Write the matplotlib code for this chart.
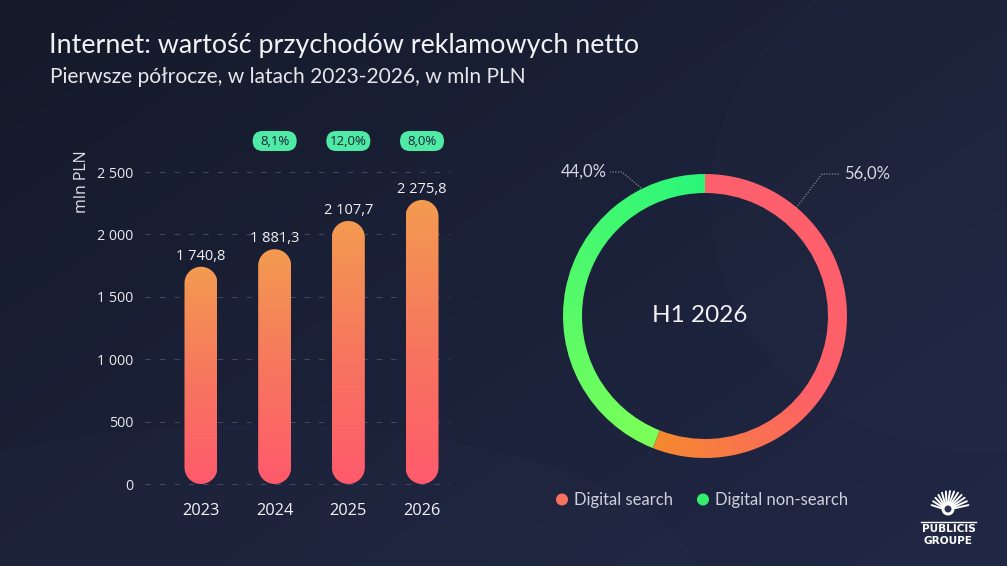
import numpy as np
import matplotlib
matplotlib.use("Agg")
import matplotlib.pyplot as plt
from matplotlib.colors import LinearSegmentedColormap, to_rgb
from matplotlib.patches import PathPatch, Circle, Ellipse, FancyBboxPatch
from matplotlib.path import Path

# ---------------- data ----------------
years = ["2023", "2024", "2025", "2026"]
values = [1740.8, 1881.3, 2107.7, 2275.8]
growth = [None, 8.1, 12.0, 8.0]
yticks = [0, 500, 1000, 1500, 2000, 2500]
share_labels = ["Digital search", "Digital non-search"]
shares = [56.0, 44.0]
center_label = "H1 2026"
title = "Internet: wartość przychodów reklamowych netto"
subtitle = "Pierwsze półrocze, w latach 2023-2026, w mln PLN"
ylabel = "mln PLN"

W, H = 1007, 566
DPI = 100
fig = plt.figure(figsize=(W / DPI, H / DPI), dpi=DPI)

def fx(px):
    return px / W

def fy(py):
    return 1 - py / H

# ---------------- background ----------------
bg = fig.add_axes([0, 0, 1, 1], zorder=-10)
bg.set_axis_off()
xx, yy = np.meshgrid(np.linspace(0, 1, 400), np.linspace(0, 1, 240))
c_tl = np.array(to_rgb("#151a2a"))
c_br = np.array(to_rgb("#212846"))
t = np.clip(0.55 * xx + 0.45 * yy, 0, 1)[..., None]
img = c_tl * (1 - t) + c_br * t
bg.imshow(img, extent=[0, 1, 1, 0], aspect="auto", interpolation="bicubic")
bg.set_xlim(0, 1)
bg.set_ylim(1, 0)
bg.add_patch(Ellipse((0.98, 0.35), 0.55, 0.9, color="white", alpha=0.012, lw=0))
bg.add_patch(Ellipse((0.25, 1.05), 0.9, 0.6, color="white", alpha=0.012, lw=0))

sans = ["Lato", "DejaVu Sans"]
tick_font = ["Open Sans", "DejaVu Sans"]

fig.text(fx(49), fy(46), title, fontsize=19.4, color="#f2f2f5", family=sans,
         va="center", ha="left")
fig.text(fx(50), fy(77), subtitle, fontsize=15.1, color="#e6e6ec", family=sans,
         va="center", ha="left")

# ---------------- bar chart ----------------
ax_l, ax_r = 145, 450
ymin, ymax = -100, 2700
y0px, y2500px = 484, 172
ppu = (y0px - y2500px) / 2500.0
top_px = y2500px - (ymax - 2500) * ppu
bot_px = y0px + (0 - ymin) * ppu
ax = fig.add_axes([fx(ax_l), fy(bot_px), (ax_r - ax_l) / W, (bot_px - top_px) / H])
ax.patch.set_alpha(0)
xmin, xmax = -0.76, 3.38
ax.set_xlim(xmin, xmax)
ax.set_ylim(ymin, ymax)
for s in ax.spines.values():
    s.set_visible(False)
ax.set_yticks(yticks)
ax.set_yticklabels([f"{v:,}".replace(",", " ") for v in yticks])
ax.set_xticks(range(len(years)))
ax.set_xticklabels(years)
ax.tick_params(axis="y", length=0, pad=8.6, colors="#e8e8ee", labelsize=10.3)
ax.tick_params(axis="x", length=0, pad=4.5, colors="#f4f4f8", labelsize=11.8)
for lab in ax.get_yticklabels() + ax.get_xticklabels():
    lab.set_family(tick_font)
ax.grid(axis="y", color="#5a6078", alpha=0.6, lw=0.8, linestyle=(0, (5, 8)))
ax.grid(axis="x", visible=False)
ax.set_axisbelow(True)
ax.set_ylabel(ylabel, color="#e0e0e8", fontsize=11.5, family=tick_font)
ax.yaxis.set_label_coords((90 - ax_l) / (ax_r - ax_l), (bot_px - 182) / (bot_px - top_px))

px_per_x = (ax_r - ax_l) / (xmax - xmin)
bar_w = 33 / px_per_x
rx = bar_w / 2
ry = (33 / 2) / ppu
cmap_bar = LinearSegmentedColormap.from_list("bar", ["#ff5a6c", "#f7775e", "#f39b50"])
grad = np.linspace(0, 1, 256)[:, None]

def fmt(v):
    s = f"{v:,.1f}"
    return s.replace(",", " ").replace(".", ",")

lax = fig.add_axes([0, 0, 1, 1], zorder=5)
lax.set_axis_off()
lax.set_xlim(0, W)
lax.set_ylim(H, 0)
lax.patch.set_alpha(0)

for i, v in enumerate(values):
    th_top = np.linspace(np.pi, 0, 40)
    th_bot = np.linspace(0, -np.pi, 40)
    top = np.column_stack([i + rx * np.cos(th_top), v - ry + ry * np.sin(th_top)])
    bot = np.column_stack([i + rx * np.cos(th_bot), ry + ry * np.sin(th_bot)])
    verts = np.vstack([top, bot, top[:1]])
    path = Path(verts, closed=True)
    patch = PathPatch(path, fc="none", ec="none")
    ax.add_patch(patch)
    im = ax.imshow(grad, extent=[i - rx, i + rx, 0, v], origin="lower", cmap=cmap_bar,
                   aspect="auto", zorder=2, interpolation="bicubic")
    im.set_clip_path(patch)
    ax.text(i, v + 3 / ppu, fmt(v), ha="center", va="bottom", color="#f2f2f5",
            fontsize=10.5, family=tick_font)
    if growth[i] is not None:
        bx = ax_l + (i - xmin) * px_per_x
        lax.add_patch(FancyBboxPatch((bx - 22 + 10, 131 + 10), 44 - 20, 20 - 20,
                                     boxstyle="round,pad=10", fc="#4feaa5", ec="none"))
        lax.text(bx, 141.5, f"{growth[i]:.1f}%".replace(".", ","),
                 ha="center", va="center", fontsize=9.5, color="#1b2236", family=tick_font)
ax.set_xlim(xmin, xmax)
ax.set_ylim(ymin, ymax)

# ---------------- donut ----------------
cx, cy, R = 705, 316, 142
box = 150
dax = fig.add_axes([fx(cx - box), fy(cy + box), 2 * box / W, 2 * box / H])
dax.set_axis_off()
lim = box / R
wedges, _ = dax.pie(shares, startangle=90, counterclock=False, radius=1,
                    wedgeprops=dict(width=19 / R, fc="none", ec="none"))
dax.set_xlim(-lim, lim)
dax.set_ylim(-lim, lim)
dax.set_aspect("equal")
n = 500
gx, gy = np.meshgrid(np.linspace(-lim, lim, n), np.linspace(-lim, lim, n))
frac = (np.degrees(np.arctan2(gx, gy)) % 360) / 360.0
cm_red = LinearSegmentedColormap.from_list(
    "r", [(0, "#ff5f6e"), (0.35, "#fd6168"), (0.56, "#f58a2e"), (1, "#f58a2e")])
cm_green = LinearSegmentedColormap.from_list("g2", ["#7dff59", "#2af67a"])
rgb_red = cm_red(frac)
rgb_green = cm_green(np.where(frac >= 0.56, (frac - 0.56) / 0.44, 0))
for wdg, rgb in [(wedges[0], rgb_red), (wedges[1], rgb_green)]:
    im = dax.imshow(rgb, extent=[-lim, lim, -lim, lim], origin="lower", zorder=2,
                    interpolation="bilinear")
    im.set_clip_path(wdg)

def to_d(px, py):
    return ((px - cx) / R, (cy - py) / R)

tx, ty = to_d(700, 316)
dax.text(tx, ty, center_label, ha="center", va="center", fontsize=17.5,
         color="#f2f2f5", family=sans)

lc = "#9aa0b4"
x1, y1 = to_d(641, 188); x2, y2 = to_d(622, 172); x3, y3 = to_d(610, 172)
dax.plot([x1, x2, x3], [y1, y2, y3], color=lc, lw=0.8, ls=(0, (1, 1.5)), clip_on=False)
tx, ty = to_d(607, 172)
dax.text(tx, ty, f"{shares[1]:.1f}%".replace(".", ","), ha="right", va="center",
         fontsize=12, color="#d6d8e2", family=sans, clip_on=False)
x1, y1 = to_d(796, 208); x2, y2 = to_d(822, 174); x3, y3 = to_d(840, 174)
dax.plot([x1, x2, x3], [y1, y2, y3], color=lc, lw=0.8, ls=(0, (1, 1.5)), clip_on=False)
tx, ty = to_d(844, 174)
dax.text(tx, ty, f"{shares[0]:.1f}%".replace(".", ","), ha="left", va="center",
         fontsize=12, color="#d6d8e2", family=sans, clip_on=False)

# ---------------- legend ----------------
leg_colors = ["#f8705f", "#33ee6c"]
leg_x = [562, 703]
for c, x0, lab in zip(leg_colors, leg_x, share_labels):
    lax.add_patch(Circle((x0, 499.5), 6, color=c, lw=0))
    lax.text(x0 + 12, 499.5, lab, ha="left", va="center", fontsize=12,
             color="#cfd1dc", family=sans)

# ---------------- logo ----------------
lax.text(948.5, 529, "PUBLICIS", ha="center", va="center", fontsize=7.6,
         color="white", fontweight="bold", family=["DejaVu Sans"])
lax.text(948.5, 541, "GROUPE", ha="center", va="center", fontsize=7.6,
         color="white", fontweight="bold", family=["DejaVu Sans"])
lax.plot([921, 976], [522, 522], color="white", lw=1)
lcx, lcy = 948, 510
for ang in np.linspace(15, 165, 13):
    a = np.radians(ang)
    r1, r2 = 7, 19
    lax.plot([lcx + r1 * np.cos(a), lcx + r2 * np.cos(a) + 2],
             [lcy - r1 * np.sin(a), lcy - r2 * np.sin(a)], color="white", lw=1.4,
             solid_capstyle="round")
lax.add_patch(Circle((lcx, lcy - 1), 6.5, color="white", lw=0))
lax.add_patch(Circle((lcx, lcy - 1), 3.5, color="#2a3050", lw=0))

fig.savefig("out.png", dpi=DPI, facecolor="#181d30")
